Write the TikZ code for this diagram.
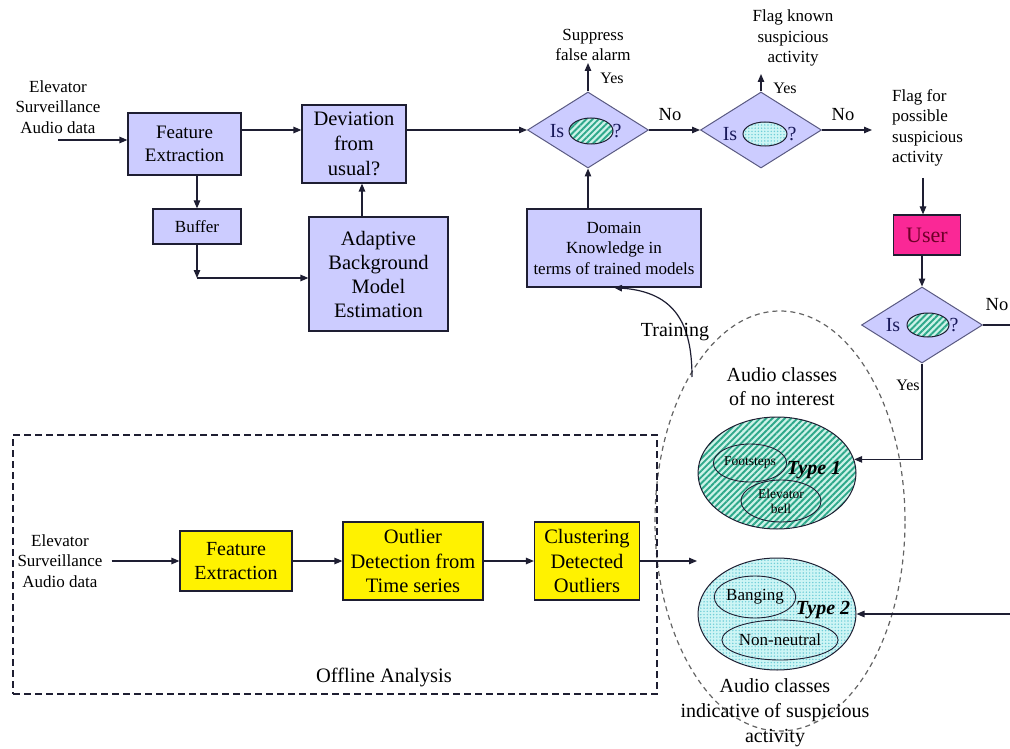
\documentclass[tikz,border=0pt]{standalone}
\usepackage{fontspec}
\setmainfont{Liberation Serif}
\usetikzlibrary{shapes.geometric,arrows.meta,patterns.meta}

\definecolor{lav}{RGB}{204,204,255}
\definecolor{edge}{RGB}{30,30,50}
\definecolor{diaedge}{RGB}{90,90,130}
\definecolor{hatchbg}{RGB}{205,242,232}
\definecolor{hatchfg}{RGB}{45,168,138}
\definecolor{dotbg}{RGB}{205,245,245}
\definecolor{dotfg}{RGB}{110,205,215}
\definecolor{userfill}{RGB}{250,40,150}
\definecolor{usertext}{RGB}{110,0,40}
\definecolor{navy}{RGB}{25,25,90}
\definecolor{dashgray}{RGB}{100,100,100}

\tikzset{
  box/.style={draw=edge, line width=1.2pt, fill=lav, align=center, inner sep=0pt},
  ybox/.style={draw=edge, line width=1.2pt, fill=yellow, align=center, inner sep=0pt},
  dia/.style={diamond, draw=diaedge, line width=1pt, fill=lav, inner sep=0pt,
              minimum width=121pt, minimum height=76pt},
  lbl/.style={align=center, font=\fontsize{17}{20.5}\selectfont, inner sep=0pt},
  yeslbl/.style={font=\fontsize{16}{18}\selectfont, inner sep=0pt},
  nolbl/.style={font=\fontsize{18.5}{20}\selectfont, inner sep=0pt},
  istext/.style={font=\fontsize{20}{22}\selectfont, text=navy, inner sep=0pt},
  biglbl/.style={align=center, font=\fontsize{19.5}{25}\selectfont, inner sep=0pt},
  arr/.style={-{Triangle[length=8pt,width=6.5pt]}, line width=1.2pt, draw=edge},
  ln/.style={line width=1.2pt, draw=edge},
  hatchell/.style={ellipse, draw=edge, line width=1pt, inner sep=0pt,
     preaction={fill=hatchbg},
     pattern={Lines[angle=45,distance=4.4pt,line width=1.9pt]}, pattern color=hatchfg},
  dotell/.style={ellipse, draw=edge, line width=1pt, inner sep=0pt,
     preaction={fill=dotbg},
     pattern={Dots[distance=3.2pt,radius=0.8pt]}, pattern color=dotfg},
  subell/.style={ellipse, draw=edge, line width=0.9pt, inner sep=0pt, align=center},
}

\begin{document}
\begin{tikzpicture}[x=1pt,y=-1pt]
\useasboundingbox (0,0) rectangle (1010,749);

% ---------- top row ----------
\node[lbl] (in1) at (58,107) {Elevator\\Surveillance\\Audio data};
\node[box, minimum width=113pt, minimum height=62pt, font=\fontsize{19}{23}\selectfont] (fe) at (184.5,144) {Feature\\Extraction};
\node[box, minimum width=104pt, minimum height=78pt, font=\fontsize{20.5}{25}\selectfont] (dev) at (354,144) {Deviation\\from\\usual?};
\node[box, minimum width=88pt, minimum height=35pt, font=\fontsize{17}{20}\selectfont] (buf) at (197,226.5) {Buffer};
\node[box, minimum width=139pt, minimum height=114pt, font=\fontsize{20.5}{24}\selectfont] (abme) at (378.5,274) {Adaptive\\Background\\Model\\Estimation};

% diamond 1
\node[dia] (d1) at (588,130) {};
\node[hatchell, minimum width=44pt, minimum height=26pt] (e1) at (591,131) {};
\node[istext] (is1) at (557,131) {Is};
\node[istext] (q1) at (617,131) {?};
% diamond 2
\node[dia] (d2) at (761,130) {};
\node[dotell, minimum width=44pt, minimum height=24pt] (e2) at (765,134) {};
\node[istext] (is2) at (730,134) {Is};
\node[istext] (q2) at (792,134) {?};

\node[lbl] (supp) at (593,45) {Suppress\\false alarm};
\node[lbl] (flagk) at (793,38) {Flag known\\suspicious\\activity};
\node[lbl, align=left, anchor=west] (flagp) at (892,128) {Flag for\\possible\\suspicious\\activity};
\node[yeslbl] (yes1) at (612,78) {Yes};
\node[yeslbl] (yes2) at (785,88) {Yes};
\node[nolbl] (no1) at (670,115) {No};
\node[nolbl] (no2) at (843,115) {No};

\node[box, minimum width=174pt, minimum height=78pt, font=\fontsize{17}{20.5}\selectfont] (dk) at (614,248) {Domain\\Knowledge in\\terms of trained models};

% user + diamond 3
\node[draw=edge, line width=1.2pt, fill=userfill, text=usertext, minimum width=67pt, minimum height=40pt, inner sep=0pt, font=\fontsize{22}{24}\selectfont] (user) at (927,235) {User};
\node[dia] (d3) at (922,325) {};
\node[hatchell, minimum width=42pt, minimum height=24pt] (e3) at (928,325) {};
\node[istext] (is3) at (893,325) {Is};
\node[istext] (q3) at (954,325) {?};
\node[nolbl] (no3) at (997,305) {No};
\node[yeslbl] (yes3) at (908,385) {Yes};

% ---------- audio classes ----------
\node[ellipse, draw=dashgray, line width=1.2pt, dash pattern=on 5pt off 4pt, minimum width=250pt, minimum height=420pt, inner sep=0pt] (big) at (780,521) {};
\node[biglbl, font=\fontsize{20}{24}\selectfont] (aud1) at (782,387) {Audio classes\\of no interest};
\node[biglbl, font=\fontsize{20}{25}\selectfont] (aud2) at (775,713) {Audio classes\\indicative of suspicious\\activity};

\node[hatchell, minimum width=158pt, minimum height=112pt] (t1) at (777,473) {};
\node[subell, minimum width=72pt, minimum height=38pt, font=\fontsize{13.5}{14}\selectfont] (foot) at (750,463) {Footsteps};
\node[subell, minimum width=80pt, minimum height=42pt, font=\fontsize{13.5}{15}\selectfont] (bell) at (781,501) {Elevator\\bell};
\node[font=\fontsize{20}{22}\selectfont\bfseries\itshape, inner sep=0pt] (type1) at (814,470) {Type 1};

\node[dotell, minimum width=158pt, minimum height=112pt] (t2) at (777,614) {};
\node[subell, minimum width=80pt, minimum height=42pt, font=\fontsize{17}{18}\selectfont] (bang) at (755,597) {Banging};
\node[subell, minimum width=96pt, minimum height=40pt, font=\fontsize{17}{18}\selectfont] (nonn) at (780,640) {Non-neutral};
\node[font=\fontsize{20}{22}\selectfont\bfseries\itshape, inner sep=0pt] (type2) at (823,610) {Type 2};

% ---------- offline analysis ----------
\node[draw=edge, line width=1.3pt, dash pattern=on 7pt off 4pt, minimum width=644pt, minimum height=259pt, inner sep=0pt] (off) at (335,564.5) {};
\node[font=\fontsize{20.5}{22}\selectfont, inner sep=0pt] (offl) at (384,677) {Offline Analysis};
\node[lbl] (in2) at (60,561) {Elevator\\Surveillance\\Audio data};
\node[ybox, minimum width=112pt, minimum height=60pt, font=\fontsize{20}{24}\selectfont] (fe2) at (236,561) {Feature\\Extraction};
\node[ybox, minimum width=140pt, minimum height=78pt, font=\fontsize{20.5}{24.5}\selectfont] (out) at (413,561) {Outlier\\Detection from\\Time series};
\node[ybox, minimum width=105pt, minimum height=78pt, font=\fontsize{20.5}{24.5}\selectfont] (clu) at (587,561) {Clustering\\Detected\\Outliers};

% ---------- coordinates ----------
\coordinate (in1s) at (58,140);
\coordinate (r1) at (0,130);
\coordinate (ax) at (362,0);
\coordinate (bc) at (197,278);
\coordinate (supptip) at (588,63);
\coordinate (flagktip) at (761,74);
\coordinate (flagptip) at (872,130);
\coordinate (fp) at (923,178);
\coordinate (noend) at (1010,325);
\coordinate (t2src) at (1010,614);
\coordinate (trs) at (692,377);
\coordinate (clutip) at (697,561);

% ---------- connectors ----------
\draw[arr] (in1s) -- (fe.west |- in1s);
\draw[arr] (fe.east |- r1) -- (dev.west |- r1);
\draw[arr] (dev.east |- r1) -- (d1.west);
\draw[arr] (d1.east) -- (d2.west);
\draw[arr] (d1.north) -- (supptip);
\draw[arr] (d2.north) -- (flagktip);
\draw[arr] (d2.east) -- (flagptip);
\draw[arr] (fe.south -| buf.north) -- (buf.north);
\draw[arr] (buf.south) -- (bc);
\draw[arr] (bc) -- (abme.west |- bc);
\draw[arr] (abme.north -| ax) -- (dev.south -| ax);
\draw[arr] (d1.south |- dk.north) -- (d1.south);
\draw[arr] (trs) .. controls (692,325) and (676,292) .. (dk.south);
\node[font=\fontsize{20}{22}\selectfont, inner sep=0pt] (train) at (675,332) {Training};
\draw[arr] (fp) -- (fp |- user.north);
\draw[arr] (d3.north |- user.south) -- (d3.north);
\draw[ln] (d3.east) -- (noend);
\draw[arr] (d3.south) |- (t1.10);
\draw[arr] (t2src) -- (t2.east);

\draw[arr] ([xshift=9pt]in2.east) -- (fe2.west);
\draw[arr] (fe2.east) -- (out.west);
\draw[arr] (out.east) -- (clu.west);
\draw[arr] (clu.east) -- (clutip);
\end{tikzpicture}
\end{document}
